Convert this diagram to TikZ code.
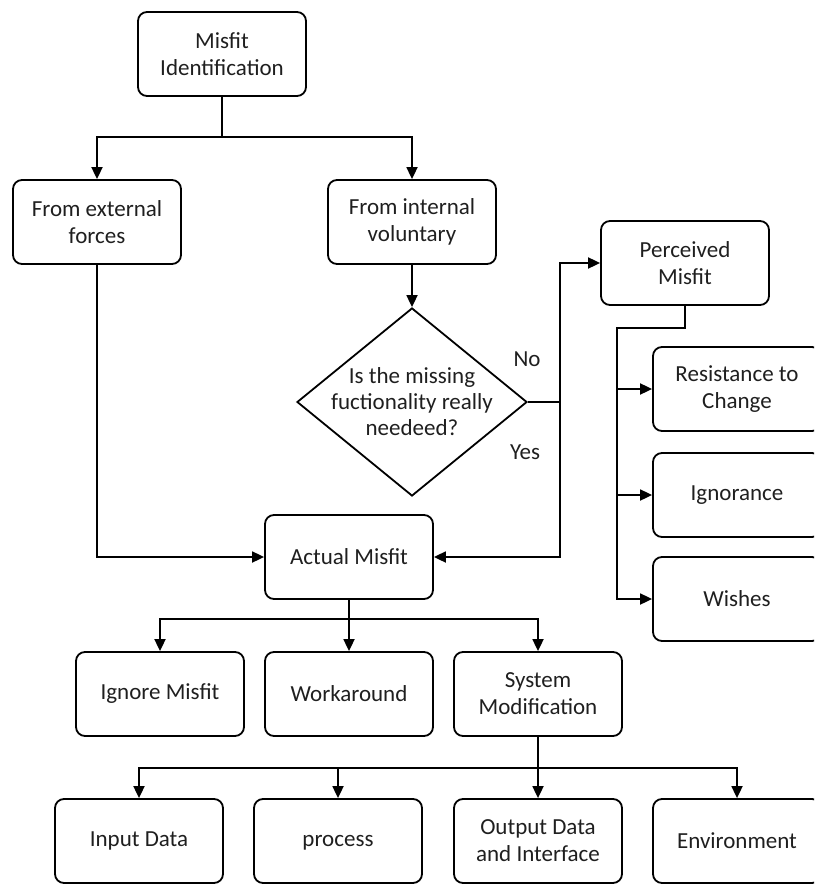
\documentclass[tikz,border=0pt]{standalone}
\usepackage{fontspec}
\setmainfont{Carlito}
\usetikzlibrary{arrows.meta,shapes.geometric}
\begin{document}
\begin{tikzpicture}[x=1pt,y=-1pt,
  box/.style={draw, line width=1.8pt, rounded corners=9pt, minimum width=168pt,
    minimum height=84pt, align=center, inner sep=2pt,
    font=\fontsize{23}{27}\selectfont, text=black!88},
  lbl/.style={font=\fontsize{23}{27}\selectfont, text=black!88, align=center, inner sep=0pt},
  ln/.style={line width=1.8pt},
  arr/.style={line width=1.8pt, -{Triangle[length=12pt,width=11pt]}}]
\useasboundingbox (0,0) rectangle (814,885);
\clip (0,0) rectangle (814,885);

% boxes
\node[box] (mi)  at (222,54)  {Misfit\\Identification};
\node[box] (ext) at (97,222)  {From external\\forces};
\node[box] (int) at (412,222) {From internal\\voluntary};
\node[box] (per) at (685,263) {Perceived\\Misfit};
\node[draw, diamond, line width=1.8pt, minimum width=230pt, minimum height=188pt,
      inner sep=0pt] (dia) at (412,402) {};
\node[lbl, font=\fontsize{23}{26}\selectfont] (diatext) at (dia.center)
      {Is the missing\\fuctionality really\\needeed?};
\node[box] (act) at (349,557) {Actual Misfit};
\node[box] (res) at (737,389) {Resistance to\\Change};
\node[box] (ign) at (737,495) {Ignorance};
\node[box] (wis) at (737,599) {Wishes};
\node[box] (igm) at (160,694) {Ignore Misfit};
\node[box] (wrk) at (349,694) {Workaround};
\node[box] (sys) at (538,694) {System\\Modification};
\node[box] (inp) at (139,841) {Input Data};
\node[box] (pro) at (338,841) {\strut process};
\node[box] (out) at (538,841) {Output Data\\and Interface};
\node[box] (env) at (737,841) {Environment};

% branch labels
\node[lbl] (no)  at (527,359) {No};
\node[lbl] (yes) at (525,452) {Yes};

% junction points
\coordinate (j1) at (222,137);
\coordinate (sp) at (560,402);
\coordinate (pj) at (617,328);
\coordinate (j2) at (349,619);
\coordinate (j3) at (538,768);

% connectors
\draw[ln] (mi.south) -- (j1);
\draw[arr] (j1) -| (ext.north);
\draw[arr] (j1) -| (int.north);
\draw[arr] (ext.south) |- (act.west);
\draw[arr] (int.south) -- (dia.north);
\draw[ln] (dia.east) -- (sp);
\draw[arr] (sp) |- (per.west);
\draw[arr] (sp) |- (act.east);
\draw[arr] (per.south) |- (pj) |- (wis.west);
\draw[arr] (pj |- res.west) -- (res.west);
\draw[arr] (pj |- ign.west) -- (ign.west);
\draw[arr] (act.south) -- (wrk.north);
\draw[arr] (j2) -| (igm.north);
\draw[arr] (j2) -| (sys.north);
\draw[arr] (sys.south) -- (out.north);
\draw[arr] (j3) -| (inp.north);
\draw[arr] (j3) -| (pro.north);
\draw[arr] (j3) -| (env.north);
\end{tikzpicture}
\end{document}
